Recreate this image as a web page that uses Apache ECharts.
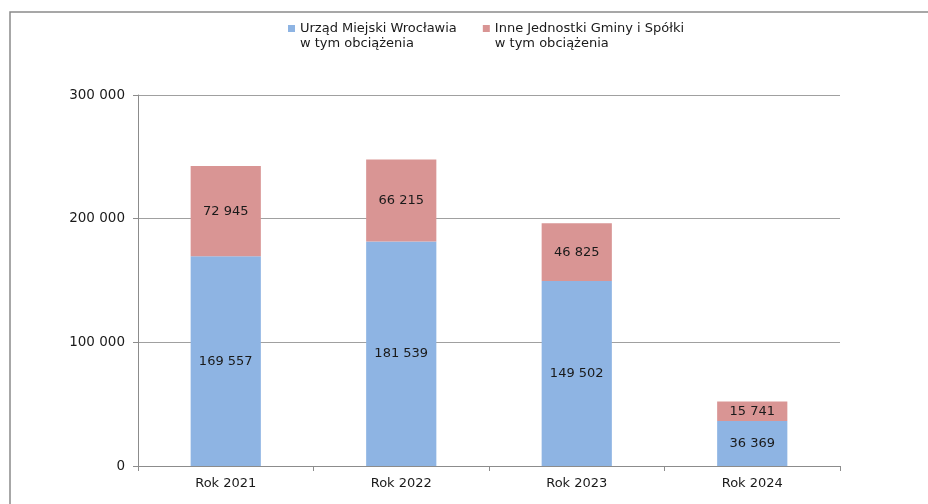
<!DOCTYPE html>
<html>
<head>
<meta charset="utf-8">
<script src="https://cdn.jsdelivr.net/npm/echarts@6/dist/echarts.min.js"></script>
<style>
    html, body { margin: 0; padding: 0; background: #fff; }
    #chart { width: 928px; height: 504px; }
</style>
</head>
<body>
<div id="chart"></div>
<script>
// dane
const categories = ['Rok 2021', 'Rok 2022', 'Rok 2023', 'Rok 2024'];
const urzad = [169557, 181539, 149502, 36369];
const inne = [72945, 66215, 46825, 15741];
const seriesNames = ['Urząd Miejski Wrocławia\nw tym obciążenia', 'Inne Jednostki Gminy i Spółki\nw tym obciążenia'];
const yTicks = [0, 100000, 200000, 300000];

const fontFamily = 'DejaVu Sans';

// 300000 -> "300 000"
function fmt(v) {
    return String(v).replace(/\B(?=(\d{3})+(?!\d))/g, ' ');
}

const labelStyle = {
    show: true,
    position: 'inside',
    color: '#1a1a1a',
    fontFamily: fontFamily,
    fontSize: 13,
    formatter: p => fmt(p.value)
};

// kwadrat legendy wyrównany do pierwszej linii tekstu
const legendIcon = 'path://M0,0h7v7h-7zM0,21.9h0.1v0.1h-0.1z';

const myChart = echarts.init(document.getElementById('chart'));
myChart.setOption({
    backgroundColor: '#fff',
    animation: false,
    graphic: [{
        // ramka wykresu (lewa i górna krawędź)
        type: 'polyline',
        shape: { points: [[10, 620], [10, 12], [1000, 12]] },
        style: { fill: null, stroke: '#8a8a8a', lineWidth: 1.5 },
        silent: true
    }],
    legend: {
        top: 16,
        left: 283,
        itemWidth: 7,
        itemHeight: 22,
        itemGap: 26,
        icon: legendIcon,
        textStyle: {
            fontFamily: fontFamily,
            fontSize: 13,
            color: '#1a1a1a',
            lineHeight: 15
        }
    },
    grid: { left: 138, right: 88, top: 95, bottom: 38 },
    xAxis: {
        type: 'category',
        data: categories,
        axisLine: { lineStyle: { color: '#8c8c8c' } },
        axisTick: { show: true, length: 5, lineStyle: { color: '#8c8c8c' } },
        axisLabel: { color: '#1a1a1a', fontFamily: fontFamily, fontSize: 13, margin: 11 }
    },
    yAxis: {
        type: 'value',
        min: yTicks[0],
        max: yTicks[yTicks.length - 1],
        interval: yTicks[1] - yTicks[0],
        axisLine: { show: true, lineStyle: { color: '#8c8c8c' } },
        axisTick: { show: true, length: 5, lineStyle: { color: '#8c8c8c' } },
        splitLine: { lineStyle: { color: '#a0a0a0' } },
        axisLabel: { color: '#1a1a1a', fontFamily: fontFamily, fontSize: 13.5, margin: 13, formatter: v => fmt(v) }
    },
    series: [{
        name: seriesNames[0],
        type: 'bar',
        stack: 'total',
        barWidth: '40%',
        data: urzad,
        itemStyle: { color: '#8EB4E3' },
        label: labelStyle
    }, {
        name: seriesNames[1],
        type: 'bar',
        stack: 'total',
        barWidth: '40%',
        data: inne,
        itemStyle: { color: '#D99594' },
        label: labelStyle
    }]
});
</script>
</body>
</html>
